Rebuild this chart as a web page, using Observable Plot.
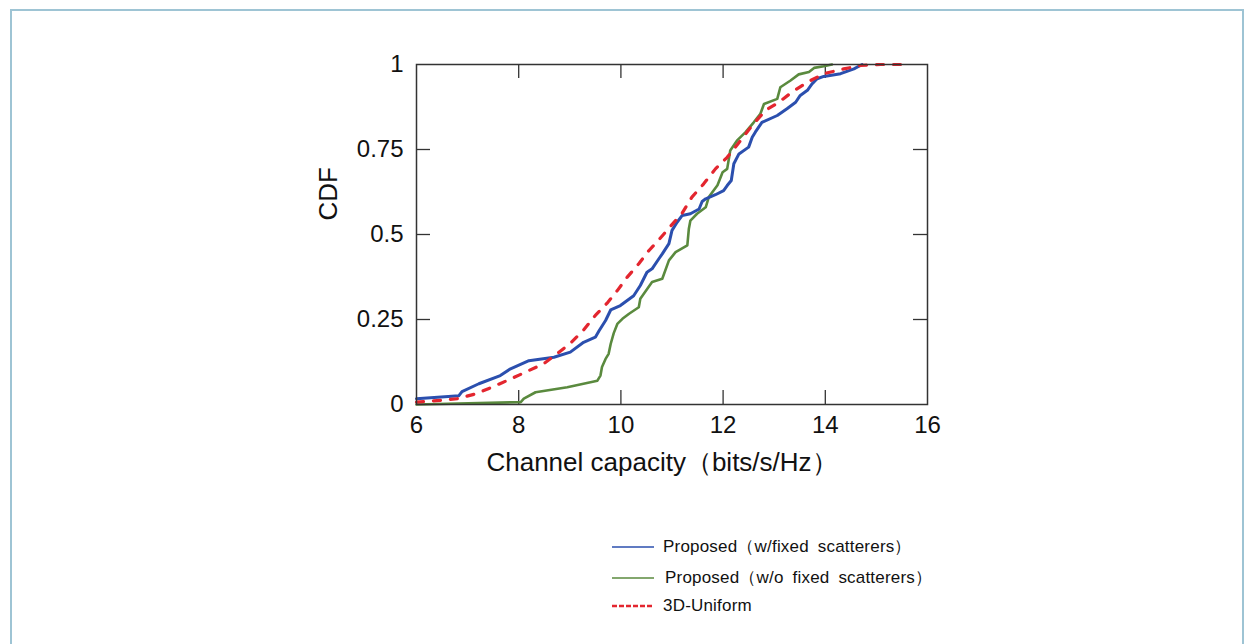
<!DOCTYPE html>
<html>
<head>
<meta charset="utf-8">
<script src="https://cdn.jsdelivr.net/npm/d3@7"></script>
<script src="https://cdn.jsdelivr.net/npm/@observablehq/plot@0.6"></script>
<style>
  html, body { margin: 0; padding: 0; background: #fff; }
  #wrap { position: relative; width: 1244px; height: 644px; overflow: hidden; font-family: "Liberation Sans", Arial, sans-serif; }
  #border { position: absolute; left: 10px; top: 9px; width: 1234px; height: 700px; border: 2px solid #9ec4d4; box-sizing: border-box; }
  #legend { position: absolute; left: 612px; top: 535px; font-size: 17px; color: #111; }
  .row { position: absolute; left: 0; white-space: nowrap; display: flex; align-items: center; }
  .row svg { margin-right: 9px; }
</style>
</head>
<body>
<div id="wrap">
  <div id="border"></div>
  <div id="chart" style="position:absolute;left:0;top:0;"></div>
  <div id="legend"></div>
</div>
<script>
// ---- data ----
const seriesNames = ["Proposed（w/fixed scatterers）", "Proposed（w/o fixed scatterers）", "3D-Uniform"];
const seriesColors = ["#2b4fae", "#5a8a3e", "#e3262f"];

const blueX = [6.0, 6.83, 6.89, 7.22, 7.64, 7.84, 8.20, 8.69, 9.01, 9.27, 9.50, 9.57, 9.70, 9.80, 9.99, 10.25, 10.38, 10.51, 10.61, 10.74, 10.81, 10.94, 11.0, 11.10, 11.20, 11.36, 11.53, 11.59, 11.66, 11.85, 12.01, 12.08, 12.16, 12.21, 12.31, 12.50, 12.57, 12.63, 12.76, 13.06, 13.25, 13.42, 13.51, 13.65, 13.74, 13.84, 13.97, 14.30, 14.56, 14.72];
const blueY = [0.017, 0.026, 0.038, 0.061, 0.085, 0.105, 0.129, 0.139, 0.154, 0.183, 0.198, 0.216, 0.247, 0.278, 0.291, 0.32, 0.35, 0.389, 0.399, 0.428, 0.443, 0.473, 0.512, 0.536, 0.556, 0.561, 0.575, 0.597, 0.605, 0.617, 0.629, 0.644, 0.659, 0.708, 0.737, 0.757, 0.786, 0.801, 0.83, 0.85, 0.87, 0.889, 0.909, 0.924, 0.943, 0.958, 0.965, 0.973, 0.987, 1.0];

const greenX = [6.0, 8.04, 8.10, 8.33, 8.95, 9.54, 9.60, 9.63, 9.70, 9.76, 9.80, 9.86, 9.93, 10.03, 10.16, 10.35, 10.38, 10.61, 10.81, 10.94, 11.07, 11.30, 11.33, 11.36, 11.49, 11.66, 11.72, 11.89, 11.99, 12.08, 12.14, 12.27, 12.44, 12.60, 12.73, 12.80, 13.06, 13.12, 13.32, 13.48, 13.68, 13.78, 13.97, 14.13];
const greenY = [0.0, 0.007, 0.017, 0.036, 0.051, 0.07, 0.085, 0.11, 0.134, 0.149, 0.178, 0.21, 0.237, 0.252, 0.267, 0.286, 0.311, 0.36, 0.37, 0.424, 0.448, 0.468, 0.517, 0.541, 0.561, 0.58, 0.61, 0.645, 0.683, 0.693, 0.747, 0.776, 0.801, 0.83, 0.855, 0.884, 0.899, 0.933, 0.953, 0.971, 0.978, 0.99, 0.995, 1.0];

const redX = [6.0, 6.47, 6.80, 7.15, 7.48, 7.81, 8.13, 8.49, 8.75, 9.01, 9.27, 9.50, 9.73, 9.93, 10.12, 10.35, 10.55, 10.74, 10.97, 11.20, 11.39, 11.62, 11.85, 12.08, 12.34, 12.57, 12.83, 13.09, 13.35, 13.65, 13.97, 14.36, 14.69, 15.08, 15.6];
const redY = [0.007, 0.012, 0.017, 0.031, 0.051, 0.073, 0.095, 0.12, 0.149, 0.18, 0.219, 0.262, 0.298, 0.335, 0.374, 0.414, 0.453, 0.484, 0.524, 0.563, 0.61, 0.649, 0.693, 0.727, 0.776, 0.821, 0.865, 0.889, 0.919, 0.948, 0.973, 0.987, 0.997, 1.0, 1.0];

const xTicks = [6, 8, 10, 12, 14, 16];
const yTicks = [0, 0.25, 0.5, 0.75, 1];
const yTickLabels = ["0", "0.25", "0.5", "0.75", "1"];
const xLabel = "Channel capacity（bits/s/Hz）";
const yLabel = "CDF";

// ---- build ----
const toPts = (xs, ys) => xs.map((x, i) => ({x, y: ys[i]}));
const blue = toPts(blueX, blueY), green = toPts(greenX, greenY), red = toPts(redX, redY);

const W = 1244, H = 644;
const chart = Plot.plot({
  width: W,
  height: H,
  marginLeft: 416,
  marginRight: 317,
  marginTop: 64,
  marginBottom: 240,
  style: {fontFamily: "'Liberation Sans', Arial, sans-serif", background: "transparent", color: "#111"},
  x: {domain: [6, 16]},
  y: {domain: [0, 1]},
  marks: [
    // inner ticks
    Plot.ruleX(xTicks.slice(1, -1), {stroke: "#333", strokeWidth: 1.3, insetTop: 326}),
    Plot.ruleX(xTicks.slice(1, -1), {stroke: "#333", strokeWidth: 1.3, insetBottom: 326}),
    Plot.ruleY(yTicks.slice(1, -1), {stroke: "#333", strokeWidth: 1.3, insetRight: 497}),
    Plot.ruleY(yTicks.slice(1, -1), {stroke: "#333", strokeWidth: 1.3, insetLeft: 497}),
    Plot.line(green, {x: "x", y: "y", stroke: seriesColors[1], strokeWidth: 2.6, curve: "linear"}),
    Plot.line(blue, {x: "x", y: "y", stroke: seriesColors[0], strokeWidth: 3, curve: "linear"}),
    Plot.line(red, {x: "x", y: "y", stroke: seriesColors[2], strokeWidth: 3.2, strokeDasharray: "7,10", curve: "linear"}),
    Plot.frame({stroke: "#333", strokeWidth: 1.5}),
    Plot.axisX(xTicks, {anchor: "bottom", tickSize: 0, tickPadding: 11, fontSize: 24, label: null, tickFormat: d => String(d)}),
    Plot.axisY(yTicks, {anchor: "left", tickSize: 0, tickPadding: 13, fontSize: 24, label: null, tickFormat: (d, i) => yTickLabels[yTicks.indexOf(d)]}),
    Plot.text([yLabel], {frameAnchor: "left", dx: -88, dy: -14, rotate: -90, fontSize: 26, fill: "#111"}),
    Plot.text([xLabel], {frameAnchor: "bottom", dx: -10, dy: 66, fontSize: 26, fill: "#111"})
  ]
});
document.getElementById("chart").appendChild(chart);

// ---- legend ----
const legend = document.getElementById("legend");
const rowTops = [0, 31, 61];
const textShift = [0, 2, 0];
seriesNames.forEach((name, i) => {
  const row = document.createElement("div");
  row.className = "row";
  row.style.top = rowTops[i] + "px";
  const dash = i === 2 ? `stroke-dasharray="5,2"` : "";
  row.innerHTML = `<svg width="${42 + textShift[i]}" height="20"><line x1="0" x2="42" y1="10" y2="10" stroke="${seriesColors[i]}" stroke-width="${i === 2 ? 2.5 : 1.6}" ${dash}/></svg><span style="word-spacing:4px;letter-spacing:0.2px">${name}</span>`;
  legend.appendChild(row);
});
</script>
</body>
</html>
